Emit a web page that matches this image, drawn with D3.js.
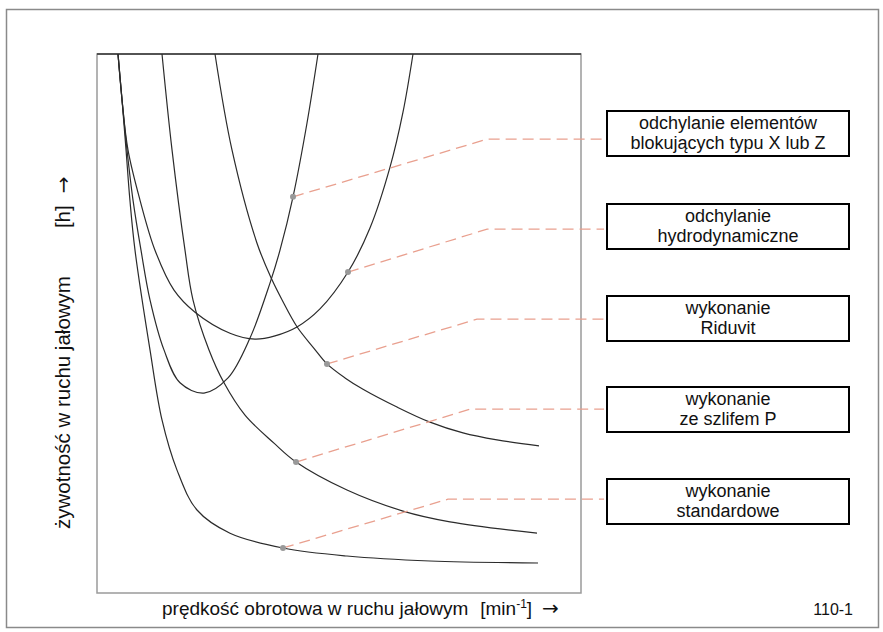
<!DOCTYPE html>
<html>
<head>
<meta charset="utf-8">
<script src="https://cdn.jsdelivr.net/npm/d3@7"></script>
<style>
  body { margin: 0; background: #fff; }
  text { font-family: "Liberation Sans", Arial, sans-serif; fill: #111; }
  .arrow { font-family: "DejaVu Sans", sans-serif; }
</style>
</head>
<body>
<div id="chart"></div>
<script>

// curves, in chart units (0..100 on both axes)
var standardowe = [[4.34,100],[5.17,91.5],[6.0,82.2],[6.8,72.9],[7.85,63.6],[10.95,45.1],[13.43,32.1],
  [16.53,22.8],[20.66,15.4],[27.48,11.1],[38.43,8.35],[51.65,6.86],[68.8,5.94],[91.12,5.57]];
var szlifP = [[13.43,100],[15.5,82.2],[18.18,63.6],[19.83,54.4],[23.14,45.1],[26.24,39.0],[30.58,33.0],
  [36.57,27.8],[41.12,24.3],[51.65,19.1],[63.22,15.2],[72.93,13.2],[90.91,11.1]];
var riduvit = [[24.38,100],[27.89,82.2],[33.06,64.9],[36.16,58.1],[38.22,54.4],[41.32,49.4],[44.83,45.4],
  [47.52,42.5],[51.24,39.9],[54.96,37.8],[61.98,34.5],[68.8,31.7],[75.62,29.7],[82.64,28.4],[91.32,27.3]];
var hydro = [[4.34,100],[5.17,91.5],[6.4,82.2],[8.88,72.9],[11.98,63.6],[15.91,56.2],[20.25,52.1],
  [27.48,48.2],[32.64,47.1],[36.78,47.7],[41.32,49.35],[46.07,52.7],[51.86,59.55],[56.4,67.7],
  [60.54,79.0],[63.22,89.2],[65.29,100]];
var blokXZ = [[4.34,100],[5.17,91.5],[6.2,82.2],[7.44,72.9],[9.09,63.6],[10.95,54.4],[13.84,45.1],
  [17.15,39.0],[22.11,37.1],[27.07,39.9],[31.61,47.3],[35.74,57.5],[37.81,63.6],[40.5,73.5],
  [43.39,87.2],[45.66,100]];

var curves = [standardowe, szlifP, riduvit, hydro, blokXZ];

// labels, top to bottom, with the point each one points at and its leader bend
var labels = [
  ["odchylanie elementów", "blokujących typu X lub Z"],
  ["odchylanie", "hydrodynamiczne"],
  ["wykonanie", "Riduvit"],
  ["wykonanie", "ze szlifem P"],
  ["wykonanie", "standardowe"]
];
var markX = [40.5, 51.86, 47.52, 41.12, 38.43];
var markY = [73.5, 59.55, 42.5, 24.3, 8.35];
var bendX = [80.6, 80.6, 78.5, 77.1, 72.5];
var bendY = [84.2, 67.5, 50.8, 34.1, 17.4];

var xTitle = "prędkość obrotowa w ruchu jałowym";
var yTitle = "żywotność w ruchu jałowym";
var figNo = "110-1";

var W = 883, H = 632;
var plot = {left: 97, right: 581, top: 54, bottom: 593};
var box = {left: 607, right: 849, h: 45, tops: [111, 204, 296, 387, 479]};

var svg = d3.select("#chart").append("svg")
    .attr("width", W)
    .attr("height", H);

var x = d3.scaleLinear().domain([0, 100]).range([plot.left, plot.right]);
var y = d3.scaleLinear().domain([0, 100]).range([plot.bottom, plot.top]);

// outer frame
svg.append("rect")
    .attr("x", 6.5).attr("y", 9.5)
    .attr("width", W - 11).attr("height", H - 14)
    .style("fill", "none")
    .style("stroke", "#8a8a8a")
    .style("stroke-width", 1.5);

// plot frame, top edge darker
svg.append("rect")
    .attr("x", plot.left).attr("y", plot.top)
    .attr("width", plot.right - plot.left).attr("height", plot.bottom - plot.top)
    .style("fill", "none")
    .style("stroke", "#9a9a9a")
    .style("stroke-width", 1.5);
svg.append("line")
    .attr("x1", plot.left).attr("x2", plot.right)
    .attr("y1", plot.top).attr("y2", plot.top)
    .style("stroke", "#333")
    .style("stroke-width", 1.5);

var line = d3.line()
    .x(function(d) { return x(d[0]); })
    .y(function(d) { return y(d[1]); })
    .curve(d3.curveCatmullRom.alpha(0.5));

svg.append("g").selectAll("path")
    .data(curves)
  .enter().append("path")
    .attr("d", line)
    .style("fill", "none")
    .style("stroke", "#2b2b2b")
    .style("stroke-width", 1.2);

// dashed leaders: point -> bend -> box
svg.append("g").selectAll("path")
    .data(labels)
  .enter().append("path")
    .attr("d", function(d, i) {
      return "M" + x(markX[i]) + "," + y(markY[i]) +
             "L" + x(bendX[i]) + "," + y(bendY[i]) +
             "L" + (box.left - 3) + "," + y(bendY[i]);
    })
    .style("fill", "none")
    .style("stroke", "#e9a08f")
    .style("stroke-width", 1.3)
    .style("stroke-dasharray", "11,6");

svg.append("g").selectAll("circle")
    .data(labels)
  .enter().append("circle")
    .attr("cx", function(d, i) { return x(markX[i]); })
    .attr("cy", function(d, i) { return y(markY[i]); })
    .attr("r", 3)
    .style("fill", "#999");

var boxes = svg.append("g").selectAll("g")
    .data(labels)
  .enter().append("g")
    .attr("transform", function(d, i) { return "translate(" + box.left + "," + box.tops[i] + ")"; });

boxes.append("rect")
    .attr("width", box.right - box.left)
    .attr("height", box.h)
    .style("fill", "#fff")
    .style("stroke", "#000")
    .style("stroke-width", 2);

boxes.selectAll("text")
    .data(function(d) { return d; })
  .enter().append("text")
    .attr("x", (box.right - box.left) / 2)
    .attr("y", function(d, j) { return 17.5 + j * 20.5; })
    .attr("text-anchor", "middle")
    .style("font-size", "18px")
    .text(function(d) { return d; });

// axis titles
var xt = svg.append("text")
    .attr("x", 162)
    .attr("y", 615)
    .style("font-size", "19px");
xt.append("tspan").text(xTitle);
xt.append("tspan").attr("dx", 12).text("[min");
xt.append("tspan").attr("dy", -7).style("font-size", "12px").text("-1");
xt.append("tspan").attr("dy", 7).text("]");
xt.append("tspan").attr("class", "arrow").attr("dx", 10).style("font-size", "20px").text("→");

var yt = svg.append("text")
    .attr("transform", "translate(70,529) rotate(-90)")
    .style("font-size", "20.5px");
yt.append("tspan").text(yTitle);
yt.append("tspan").attr("dx", 48).text("[h]");
yt.append("tspan").attr("class", "arrow").attr("dx", 12).style("font-size", "20px").text("→");

svg.append("text")
    .attr("x", 853)
    .attr("y", 615)
    .attr("text-anchor", "end")
    .style("font-size", "16px")
    .text(figNo);

</script>
</body>
</html>
